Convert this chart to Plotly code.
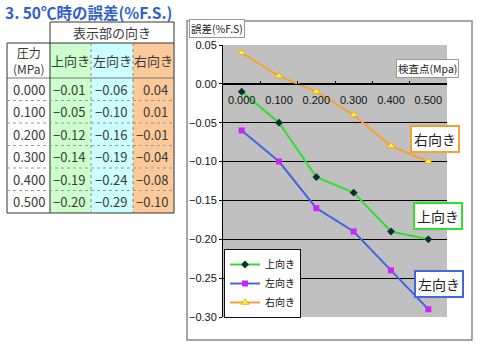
import plotly.graph_objects as go

# --- data -------------------------------------------------------------
pressure = ["0.000", "0.100", "0.200", "0.300", "0.400", "0.500"]
series_names = ["上向き", "左向き", "右向き"]
err_up = [-0.01, -0.05, -0.12, -0.14, -0.19, -0.20]
err_left = [-0.06, -0.10, -0.16, -0.19, -0.24, -0.29]
err_right = [0.04, 0.01, -0.01, -0.04, -0.08, -0.10]

title_text = "3. 50℃時の誤差(%F.S.)"
y_title = "誤差(%F.S)"
x_title = "検査点(Mpa)"
table_head = "表示部の向き"
press_head = "圧力<br>(MPa)"

# --- page geometry (pixels) -------------------------------------------
W, H = 480, 345
PL, PR, PT, PB = 223, 447, 45, 317          # plot area edges

def px(x):
    return (x - PL) / (PR - PL)

def py(y):
    return (PB - y) / (PB - PT)

JP = "Noto Sans CJK JP"
TXT = "#3a3a3a"

fig = go.Figure()

line_cols = ["#33dd33", "#4466dd", "#f5a030"]
markers = [
    dict(symbol="diamond", size=6, color="#0b2f2f", line=dict(width=0)),
    dict(symbol="square", size=6, color="#cc22ff", line=dict(width=0)),
    dict(symbol="triangle-up", size=7, color="#ffff33", line=dict(width=1, color="#f5a030")),
]
for name, vals, col, mk in zip(series_names, [err_up, err_left, err_right], line_cols, markers):
    fig.add_trace(go.Scatter(x=pressure, y=vals, name=name, mode="lines+markers",
                             line=dict(color=col, width=2), marker=mk))

shapes = []
ann = []

# chart frame
shapes.append(dict(type="rect", xref="paper", yref="paper", x0=px(187), x1=px(472),
                   y0=py(340), y1=py(21), line=dict(color="#8a8a8a", width=1.5),
                   fillcolor="rgba(0,0,0,0)", layer="below"))

# --- table --------------------------------------------------------------
col_x = [7, 50, 91, 133, 174]
row_h = 22.5
n = len(pressure)
y_bottom = 78 + n * row_h
fills = ["#ccffcc", "#ccffff", "#fcc99a"]
for i, f in enumerate(fills):
    shapes.append(dict(type="rect", xref="paper", yref="paper", x0=px(col_x[i + 1]),
                       x1=px(col_x[i + 2]), y0=py(y_bottom), y1=py(43),
                       fillcolor=f, line=dict(width=0), layer="below"))

def hline(x0, x1, y, color="#333333", dash="solid", w=1):
    shapes.append(dict(type="line", xref="paper", yref="paper", x0=px(x0), x1=px(x1),
                       y0=py(y), y1=py(y), line=dict(color=color, width=w, dash=dash)))

def vline(x, y0, y1, color="#333333", dash="solid", w=1):
    shapes.append(dict(type="line", xref="paper", yref="paper", x0=px(x), x1=px(x),
                       y0=py(y0), y1=py(y1), line=dict(color=color, width=w, dash=dash)))

# outer and header borders
hline(50, 174, 22)
hline(7, 174, 43)
hline(7, 174, 78, color="#777777")
hline(7, 174, y_bottom)
vline(7, 43, y_bottom)
vline(50, 22, y_bottom)
vline(174, 22, y_bottom)
vline(91, 43, y_bottom, color="#888888", dash="dot")
vline(133, 43, y_bottom, color="#888888", dash="dot")
for r in range(1, n):
    hline(7, 174, 78 + r * row_h, color="#999999", dash="dot")

ann.append(dict(x=px(112), y=py(32.5), text=table_head))
ann.append(dict(x=px(28.5), y=py(60.5), text=press_head, font=dict(size=12, family=JP, color=TXT)))
for i, name in enumerate(series_names):
    ann.append(dict(x=px((col_x[i + 1] + col_x[i + 2]) / 2), y=py(60.5), text=name))

def fmt(v):
    s = f"{v:.2f}"
    return s.replace("-", "−")

for r, p in enumerate(pressure):
    yc = py(78 + (r + 0.5) * row_h)
    ann.append(dict(x=px(47), y=yc, text=p, xanchor="right"))
    for i, vals in enumerate([err_up, err_left, err_right]):
        ann.append(dict(x=px(col_x[i + 2] - 4), y=yc, text=fmt(vals[r]), xanchor="right"))

# title
ann.append(dict(x=px(3), y=py(12), text=f"<b>{title_text}</b>", xanchor="left",
                font=dict(size=15.5, family=JP, color="#2f5fd0")))

# axis captions
ann.append(dict(x=px(189), y=py(29), text=y_title, xanchor="left",
                font=dict(size=10.5, family=JP, color="#222222"),
                bgcolor="white", bordercolor="#999999", borderwidth=1, borderpad=1))
ann.append(dict(x=px(459), y=py(68.5), text=x_title, xanchor="right",
                font=dict(size=10.5, family=JP, color="#222222"),
                bgcolor="white", bordercolor="#999999", borderwidth=1, borderpad=1))

# series callouts
callouts = [("右向き", 435, 139, "#f5a030"), ("上向き", 438, 216, "#33dd33"), ("左向き", 439, 284, "#4466dd")]
for txt, cx, cy, col in callouts:
    ann.append(dict(x=px(cx), y=py(cy), text=txt, font=dict(size=14, family=JP, color="#222222"),
                    bgcolor="white", bordercolor=col, borderwidth=2, borderpad=2))

for a in ann:
    a.setdefault("xref", "paper")
    a.setdefault("yref", "paper")
    a.setdefault("showarrow", False)
    a.setdefault("xanchor", "center")
    a.setdefault("yanchor", "middle")
    a.setdefault("font", dict(size=13, family=JP, color=TXT))

fig.update_layout(
    width=W, height=H,
    margin=dict(l=PL, r=W - PR, t=PT, b=H - PB, pad=0),
    paper_bgcolor="white",
    plot_bgcolor="#c0c0c0",
    shapes=shapes,
    annotations=ann,
    showlegend=True,
    legend=dict(x=px(224), y=py(249), xanchor="left", yanchor="top",
                bgcolor="white", bordercolor="#111111", borderwidth=1,
                font=dict(size=10, family=JP, color="#111111"),
                tracegroupgap=0, itemwidth=30),
    font=dict(family="Liberation Sans", size=11, color="#111111"),
)
fig.update_yaxes(range=[-0.30, 0.05], dtick=0.05, tick0=0, tickformat=".2f",
                 showline=True, linecolor="black", linewidth=1, ticks="outside",
                 ticklen=3, tickcolor="black", showgrid=True, gridcolor="black",
                 gridwidth=1, zeroline=True, zerolinecolor="black", zerolinewidth=1,
                 tickfont=dict(size=11, family="Liberation Sans", color="#111111"))
fig.update_xaxes(type="category", categoryorder="array", categoryarray=pressure,
                 range=[-0.5, len(pressure) - 0.5], anchor="free",
                 position=0.30 / 0.35, showline=True, linecolor="black", linewidth=1,
                 ticks="inside", tickson="boundaries", ticklen=3, tickcolor="black",
                 showgrid=False, ticklabelstandoff=6,
                 tickfont=dict(size=11, family="Liberation Sans", color="#111111"))

fig.write_html("out.html")
